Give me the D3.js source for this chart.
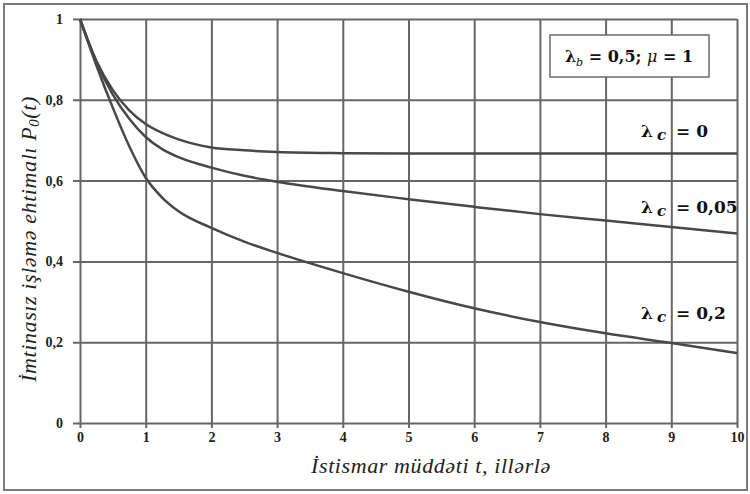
<!DOCTYPE html>
<html>
<head>
<meta charset="utf-8">
<script src="https://cdn.jsdelivr.net/npm/d3@7/dist/d3.min.js"></script>
<style>
  html, body { margin: 0; padding: 0; background: #fff; }
  svg { display: block; }
</style>
</head>
<body>
<svg id="chart" width="750" height="494"></svg>
<script>
// Operating time, years
const tValues = [0, 0.25, 0.5, 0.75, 1, 1.25, 1.5, 2, 2.5, 3, 4, 5, 6, 7, 8, 9, 10];

// Probability of failure-free operation P0(t) for each λc
const pLambda0   = [1, 0.896, 0.824, 0.774, 0.740, 0.718, 0.702, 0.682, 0.675, 0.671, 0.668, 0.667, 0.667, 0.667, 0.667, 0.667, 0.667];
const pLambda005 = [1, 0.893, 0.813, 0.753, 0.708, 0.678, 0.658, 0.632, 0.612, 0.597, 0.574, 0.554, 0.535, 0.517, 0.501, 0.485, 0.469];
const pLambda02  = [1, 0.885, 0.780, 0.685, 0.607, 0.558, 0.524, 0.483, 0.449, 0.421, 0.371, 0.325, 0.284, 0.250, 0.222, 0.198, 0.173];

const seriesNames = ["0", "0,05", "0,2"];
const xTicks = [0, 1, 2, 3, 4, 5, 6, 7, 8, 9, 10];
const yTicks = [0, 0.2, 0.4, 0.6, 0.8, 1];
const yTickLabels = ["0", "0,2", "0,4", "0,6", "0,8", "1"];

const svg = d3.select("#chart");

const x = d3.scaleLinear().domain([0, 10]).range([80, 737]);
const y = d3.scaleLinear().domain([0, 1]).range([423, 19]);

const gridColor = "#666";
const curveColor = "#484848";

// outer frame
svg.append("rect")
  .attr("x", 4).attr("y", 4).attr("width", 743).attr("height", 486)
  .attr("fill", "none").attr("stroke", "#7a7a7a").attr("stroke-width", 2);

// horizontal grid with left tick stubs
const yAxis = d3.axisLeft(y).tickValues(yTicks)
  .tickSize(-(x.range()[1] - x.range()[0]))
  .tickFormat((d, i) => yTickLabels[i]);
const gy = svg.append("g").attr("transform", `translate(${x(0)},0)`).call(yAxis);
gy.select(".domain").remove();
gy.selectAll(".tick line").attr("stroke", gridColor).attr("stroke-width", 2)
  .attr("x1", -7);
gy.selectAll(".tick text")
  .attr("font-family", "'Liberation Serif', serif").attr("font-weight", "bold")
  .attr("font-size", 14).attr("fill", "#222").attr("x", -17);

// vertical grid with bottom tick stubs
const xAxis = d3.axisBottom(x).tickValues(xTicks)
  .tickSize(-(y.range()[0] - y.range()[1]))
  .tickFormat(d3.format("d"));
const gx = svg.append("g").attr("transform", `translate(0,${y(0)})`).call(xAxis);
gx.select(".domain").remove();
gx.selectAll(".tick line").attr("stroke", gridColor).attr("stroke-width", 2)
  .attr("y1", 5);
gx.selectAll(".tick text")
  .attr("font-family", "'Liberation Serif', serif").attr("font-weight", "bold")
  .attr("font-size", 14).attr("fill", "#222").attr("y", 9);

// curves
const line = d3.line()
  .x((d, i) => x(tValues[i]))
  .y(d => y(d))
  .curve(d3.curveMonotoneX);

[pLambda0, pLambda005, pLambda02].forEach(vals => {
  svg.append("path").datum(vals)
    .attr("d", line)
    .attr("fill", "none")
    .attr("stroke", curveColor)
    .attr("stroke-width", 2.5);
});

// series labels λc = ...
const labelY = [131, 207, 313];
seriesNames.forEach((name, i) => {
  const t = svg.append("text")
    .attr("x", 641).attr("y", labelY[i] + 6)
    .attr("font-family", "'DejaVu Serif', serif")
    .attr("font-weight", "bold").attr("font-size", 17).attr("fill", "#111");
  t.append("tspan").text("λ");
  t.append("tspan").attr("font-style", "italic").attr("dx", 4).attr("dy", 3).attr("font-size", 15).text("c");
  t.append("tspan").attr("dy", -3).attr("dx", 10).text("= " + name);
});

// parameter box
svg.append("rect")
  .attr("x", 550).attr("y", 35).attr("width", 159).attr("height", 42)
  .attr("fill", "#fff").attr("stroke", "#6a6a6a").attr("stroke-width", 1.5);
const pt = svg.append("text")
  .attr("x", 629).attr("y", 62).attr("text-anchor", "middle")
  .attr("font-family", "'DejaVu Serif', serif").attr("font-weight", "bold")
  .attr("font-size", 16).attr("fill", "#111");
pt.append("tspan").text("λ");
pt.append("tspan").attr("font-style", "italic").attr("font-weight", "normal").attr("font-size", 11).attr("dy", 4).text("b");
pt.append("tspan").attr("dy", -4).text(" = 0,5; ");
pt.append("tspan").attr("font-style", "italic").attr("font-weight", "normal").text("μ");
pt.append("tspan").text(" = 1");

// axis titles
svg.append("text")
  .attr("x", 431).attr("y", 473).attr("text-anchor", "middle")
  .attr("font-family", "'Liberation Serif', serif").attr("font-style", "italic")
  .attr("font-size", 22).attr("letter-spacing", 0.6).attr("fill", "#222")
  .text("İstismar müddəti t, illərlə");

const yt = svg.append("text")
  .attr("transform", "translate(36,239) rotate(-90)")
  .attr("text-anchor", "middle")
  .attr("font-family", "'Liberation Serif', serif").attr("font-style", "italic")
  .attr("font-size", 22).attr("letter-spacing", 0.6).attr("fill", "#222");
yt.append("tspan").text("İmtinasız işləmə ehtimalı P");
yt.append("tspan").attr("font-size", 15).attr("dy", 3).text("0");
yt.append("tspan").attr("dy", -3).text("(t)");
</script>
</body>
</html>
